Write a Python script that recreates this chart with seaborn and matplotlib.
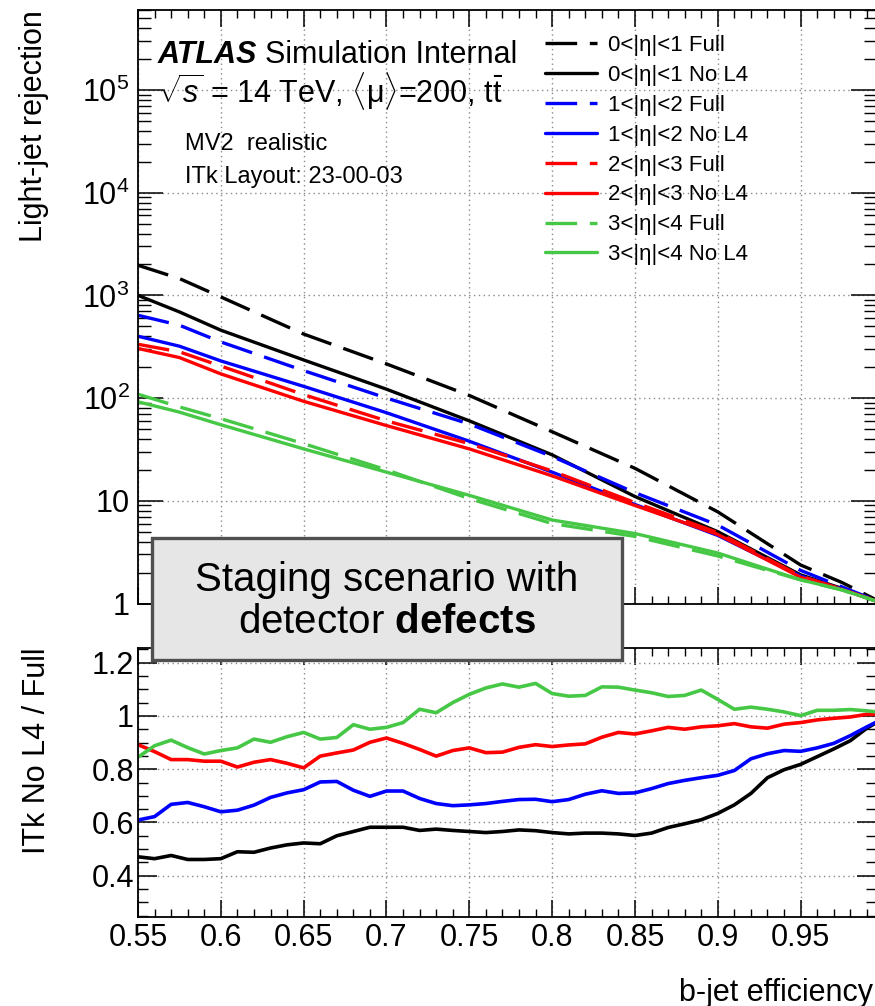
import numpy as np
import pandas as pd
import matplotlib
matplotlib.use("Agg")
import matplotlib.pyplot as plt
import seaborn as sns
from matplotlib.ticker import LogLocator, NullFormatter, MultipleLocator, FixedLocator, FixedFormatter
from matplotlib.patches import Rectangle

# ---- data ----
x_top = [0.55, 0.575, 0.6, 0.65, 0.7, 0.75, 0.8, 0.85, 0.9, 0.95, 0.975, 1.0]

black_full = [1963, 1457, 965, 420, 215, 106, 47, 20.7, 7.8, 2.37, 1.6, 1.0]
black_nol4 = [1000, 690, 458, 235, 122, 60, 28, 11.0, 5.0, 1.9, 1.4, 1.0]
blue_full = [640, 512, 352, 185, 100, 56, 27, 12.0, 5.8, 2.1, 1.45, 1.0]
blue_nol4 = [400, 320, 230, 130, 72, 38, 19, 9.2, 4.6, 1.85, 1.38, 1.0]
red_full = [334, 282, 205, 108, 60, 36, 19.5, 9.6, 4.9, 1.85, 1.38, 1.0]
red_nol4 = [304, 248, 172, 93, 54, 32, 17.5, 9.0, 4.7, 1.8, 1.37, 1.0]
green_full = [109, 82, 63, 36, 20, 10.5, 6.0, 4.5, 2.9, 1.7, 1.35, 1.0]
green_nol4 = [92, 73, 55, 32, 19, 11.3, 6.5, 4.8, 3.1, 1.7, 1.36, 1.0]

# ratio panel, one point every 0.01 from 0.55 to 1.00
x_ratio = np.round(np.arange(0.55, 1.0001, 0.01), 2)
black_ratio = [0.471, 0.464, 0.476, 0.461, 0.461, 0.464, 0.490, 0.488, 0.504, 0.516, 0.523, 0.520,
               0.550, 0.566, 0.582, 0.582, 0.582, 0.570, 0.575, 0.570, 0.566, 0.562, 0.566,
               0.572, 0.569, 0.562, 0.557, 0.560, 0.560, 0.557, 0.551, 0.560, 0.581, 0.595, 0.610,
               0.634, 0.666, 0.709, 0.768, 0.798, 0.818, 0.847, 0.876, 0.907, 0.954, 0.990]
blue_ratio = [0.609, 0.622, 0.668, 0.675, 0.659, 0.640, 0.646, 0.665, 0.694, 0.711, 0.723, 0.752,
              0.754, 0.721, 0.698, 0.718, 0.718, 0.690, 0.671, 0.663, 0.666, 0.671, 0.679,
              0.686, 0.687, 0.678, 0.686, 0.706, 0.719, 0.709, 0.711, 0.727, 0.746, 0.758, 0.768,
              0.777, 0.795, 0.839, 0.858, 0.870, 0.867, 0.880, 0.897, 0.926, 0.959, 0.990]
red_ratio = [0.892, 0.866, 0.836, 0.836, 0.830, 0.830, 0.808, 0.826, 0.836, 0.822, 0.805, 0.849,
             0.861, 0.872, 0.901, 0.917, 0.897, 0.874, 0.849, 0.870, 0.880, 0.862, 0.864,
             0.882, 0.892, 0.885, 0.891, 0.895, 0.920, 0.938, 0.932, 0.944, 0.957, 0.950, 0.959,
             0.963, 0.971, 0.959, 0.954, 0.969, 0.975, 0.985, 0.991, 0.996, 1.006, 1.006]
green_ratio = [0.845, 0.888, 0.909, 0.881, 0.857, 0.870, 0.880, 0.913, 0.901, 0.922, 0.938, 0.913,
               0.919, 0.967, 0.950, 0.957, 0.975, 1.025, 1.012, 1.050, 1.081, 1.105, 1.120,
               1.108, 1.122, 1.084, 1.074, 1.077, 1.109, 1.108, 1.097, 1.087, 1.073, 1.077, 1.097,
               1.062, 1.025, 1.033, 1.025, 1.015, 1.001, 1.021, 1.021, 1.024, 1.019, 1.012]

eta_bins = ["0<|η|<1", "1<|η|<2", "2<|η|<3", "3<|η|<4"]
colors = ["black", "#0000ff", "#ff0000", "#46c846"]
full_curves = [black_full, blue_full, red_full, green_full]
nol4_curves = [black_nol4, blue_nol4, red_nol4, green_nol4]
ratios = [black_ratio, blue_ratio, red_ratio, green_ratio]

# ---- style ----
sns.set_style("ticks")
plt.rcParams["font.family"] = ["Liberation Sans", "DejaVu Sans"]
plt.rcParams.update({
    "mathtext.fontset": "custom",
    "mathtext.rm": "Liberation Sans",
    "mathtext.it": "Liberation Sans:italic",
    "mathtext.bf": "Liberation Sans:bold",
    "xtick.direction": "in", "ytick.direction": "in",
    "xtick.top": True, "ytick.right": True,
    "xtick.color": "black", "ytick.color": "black",
    "text.color": "black", "axes.labelcolor": "black",
    "axes.edgecolor": "black", "axes.linewidth": 1.3,
})

W, H = 875, 1006
fig = plt.figure(figsize=(W / 100, H / 100), dpi=100)


def fx(px):
    return px / W


def fy(py):
    return 1 - py / H


ax1 = fig.add_axes([fx(138), fy(603.5), (876 - 138) / W, (603.5 - 10) / H])
ax2 = fig.add_axes([fx(138), fy(917), (876 - 138) / W, (917 - 648) / H])

dash = (0, (9.5, 3.8))
for eta, c, full, nol4 in zip(eta_bins, colors, full_curves, nol4_curves):
    sns.lineplot(x=x_top, y=full, ax=ax1, color=c, lw=2.4, linestyle=dash,
                 legend=False, errorbar=None)
    ax1.lines[-1].set_label(f"{eta} Full")
    sns.lineplot(x=x_top, y=nol4, ax=ax1, color=c, lw=2.4, linestyle="-",
                 legend=False, errorbar=None)
    ax1.lines[-1].set_label(f"{eta} No L4")

for c, r in zip(colors, ratios):
    sns.lineplot(x=x_ratio, y=r, ax=ax2, color=c, lw=2.6, legend=False, errorbar=None)

xmax = 0.9955
grid_kw = dict(color="#8a8a8a", lw=1.0, ls=(0, (1, 2.5)))
xmaj = [0.55, 0.6, 0.65, 0.7, 0.75, 0.8, 0.85, 0.9, 0.95, 1.0]
xlab = ["0.55", "0.6", "0.65", "0.7", "0.75", "0.8", "0.85", "0.9", "0.95", "1"]

# top panel
ax1.set_yscale("log")
ax1.set_xlim(0.55, xmax)
ax1.set_ylim(1, 6e5)
ax1.yaxis.set_major_locator(FixedLocator([1, 10, 1e2, 1e3, 1e4, 1e5]))
ax1.yaxis.set_major_formatter(FixedFormatter(["1", "10", "$10^{2}$", "$10^{3}$", "$10^{4}$", "$10^{5}$"]))
ax1.yaxis.set_minor_locator(LogLocator(base=10, subs=np.arange(2, 10), numticks=20))
ax1.yaxis.set_minor_formatter(NullFormatter())
ax1.xaxis.set_major_locator(FixedLocator(xmaj))
ax1.xaxis.set_minor_locator(MultipleLocator(0.01))
ax1.tick_params(axis="x", labelbottom=False)
ax1.tick_params(axis="y", which="major", length=18, width=1.1, labelsize=22, pad=6)
ax1.tick_params(axis="y", which="minor", length=9, width=1.0)
ax1.tick_params(axis="x", which="major", length=12, width=1.1)
ax1.tick_params(axis="x", which="minor", length=6, width=1.0)
ax1.grid(True, which="major", **grid_kw)
ax1.set_xlabel("")
ax1.set_ylabel("Light-jet rejection", fontsize=22, loc="top")
ax1.yaxis.set_label_coords(-0.121, 1.0)

# ratio panel
ax2.set_xlim(0.55, xmax)
ax2.set_ylim(0.245, 1.255)
ax2.yaxis.set_major_locator(FixedLocator([0.4, 0.6, 0.8, 1.0, 1.2]))
ax2.yaxis.set_major_formatter(FixedFormatter(["0.4", "0.6", "0.8", "1", "1.2"]))
ax2.yaxis.set_minor_locator(MultipleLocator(0.05))
ax2.xaxis.set_major_locator(FixedLocator(xmaj))
ax2.xaxis.set_major_formatter(FixedFormatter(xlab))
ax2.xaxis.set_minor_locator(MultipleLocator(0.01))
ax2.tick_params(axis="y", which="major", length=14, width=1.1, labelsize=22, pad=3)
ax2.tick_params(axis="y", which="minor", length=7, width=1.0)
ax2.tick_params(axis="x", which="major", length=12, width=1.1, labelsize=22, pad=4)
ax2.tick_params(axis="x", which="minor", length=6, width=1.0)
ax2.grid(True, which="major", **grid_kw)
ax2.set_ylabel("ITk No L4 / Full", fontsize=22, loc="top")
ax2.yaxis.set_label_coords(-0.117, 1.0)
ax2.set_xlabel("b-jet efficiency", fontsize=22, loc="right")
ax2.xaxis.set_label_coords((873 - 138) / 738, -0.225)

# legend
ax1.legend(loc="upper left", bbox_to_anchor=(fx(545), fy(35)), bbox_transform=fig.transFigure,
           frameon=False, fontsize=16, handlelength=2.34, handletextpad=0.5,
           labelspacing=0.40, borderpad=0, borderaxespad=0)

# ATLAS labels
t = fig.text(fx(158), fy(63), "ATLAS", fontsize=22, weight="bold", style="italic", va="baseline")
fig.canvas.draw()
bb = t.get_window_extent(renderer=fig.canvas.get_renderer())
fig.text(bb.x1 / W + 0.009, fy(63), "Simulation Internal", fontsize=22, va="baseline")
fig.text(fx(158), fy(102), r"$\sqrt{s}$ = 14 TeV, $\langle\mathrm{\mu}\rangle$=200, $\mathrm{t\bar{t}}$",
         fontsize=22, va="baseline")
fig.text(fx(185), fy(150), "MV2  realistic", fontsize=17, va="baseline")
fig.text(fx(185), fy(183), "ITk Layout: 23-00-03", fontsize=17, va="baseline")

# staging box
box = Rectangle((fx(152), fy(660)), (622 - 152) / W, (660 - 538) / H, transform=fig.transFigure,
                facecolor="#e6e6e6", edgecolor="#505050", lw=2.4, zorder=5)
fig.add_artist(box)
fig.text(fx(387), fy(580), "Staging scenario with", fontsize=29, ha="center", va="center", zorder=6)
fig.text(fx(387), fy(622), r"detector $\mathbf{defects}$", fontsize=29, ha="center", va="center", zorder=6)

fig.savefig("out.png", dpi=100)
